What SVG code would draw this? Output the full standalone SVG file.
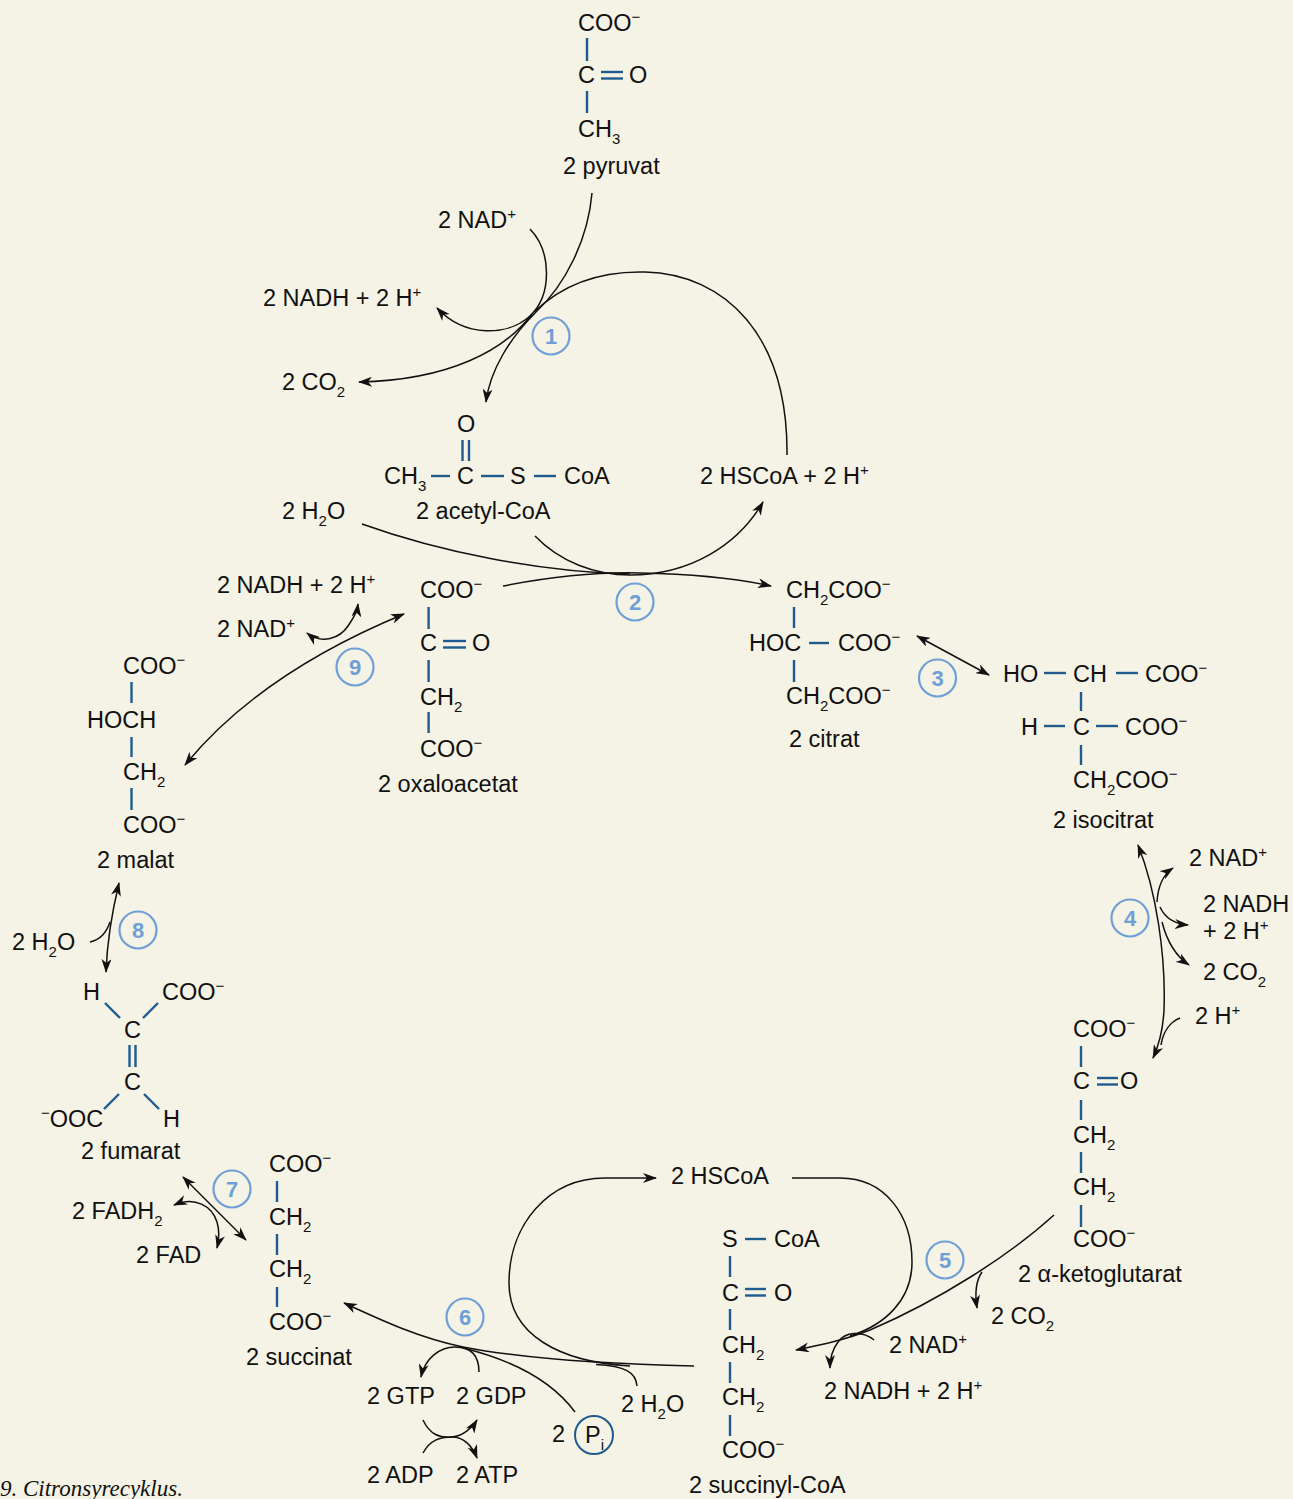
<svg xmlns="http://www.w3.org/2000/svg" width="1293" height="1499" viewBox="0 0 1293 1499">
<defs>
<style>
text{font-family:"Liberation Sans",Arial,sans-serif;font-size:23.5px;fill:#111}
.sb{font-size:15px}
.sp{font-size:15px}
.bond{stroke:#1f5b8e;stroke-width:2.4;fill:none}
.con{stroke:#111;stroke-width:1.5;fill:none}
.arr{marker-end:url(#ah)}
.dbl{marker-end:url(#ah);marker-start:url(#ah)}
.step circle{fill:none;stroke:#6e9fd6;stroke-width:2.2}
.step text{font-size:22px;font-weight:bold;fill:#6e9fd6;text-anchor:middle}
.cap{font-family:"Liberation Serif","Times New Roman",serif;font-style:italic;font-size:23px}
</style>
<marker id="ah" viewBox="0 0 14 10" refX="13" refY="5" markerWidth="14" markerHeight="10" markerUnits="userSpaceOnUse" orient="auto-start-reverse">
<path d="M0,0 L14,5 L0,10 L4,5 z" fill="#111"/>
</marker>
</defs>
<rect width="1293" height="1499" fill="#f5f3e5"/>

<g id="connectors">
<!-- step 1 -->
<path class="con arr" d="M592,193 C588,240 565,285 536,312 C510,338 490,370 486,402"/>
<path class="con arr" d="M530,229 C552,252 552,295 530,316 C508,336 465,338 437,308"/>
<path class="con arr" d="M532,314 C505,350 450,380 359,382"/>
<path class="con" d="M534,312 C565,282 605,271 645,272 C725,274 788,335 787,455"/>
<!-- step 2 -->
<path class="con" d="M362,524 C440,552 540,572 630,574"/>
<path class="con arr" d="M503,586 C550,577 600,572 640,573 C690,574 735,578 771,586"/>
<path class="con arr" d="M535,536 C560,562 595,575 630,575 C690,575 738,545 763,502"/>
<!-- step 3 -->
<path class="con dbl" d="M917,636 L989,675"/>
<!-- step 4 -->
<path class="con dbl" d="M1138,845 C1156,890 1166,955 1164,1010 C1163,1030 1159,1045 1153,1058"/>
<path class="con arr" d="M1157,902 C1158,885 1164,874 1173,868"/>
<path class="con arr" d="M1160,907 C1165,918 1175,924 1188,925"/>
<path class="con arr" d="M1162,922 C1168,945 1177,957 1189,965"/>
<path class="con" d="M1180,1018 C1170,1022 1163,1032 1161,1045"/>
<!-- step 5 -->
<path class="con arr" d="M1054,1215 C1010,1255 940,1300 870,1330 C845,1340 820,1345 796,1350"/>
<path class="con arr" d="M982,1272 C975,1282 975,1295 977,1308"/>
<path class="con arr" d="M874,1340 C862,1330 845,1332 838,1342 C832,1350 830,1358 830,1368"/>
<path class="con" d="M792,1178 L840,1178 C885,1178 912,1215 912,1262 C912,1300 885,1325 850,1336"/>
<!-- step 6 -->
<path class="con arr" d="M694,1366 C600,1364 520,1358 463,1347 C420,1338 385,1322 344,1303"/>
<path class="con arr" d="M630,1366 C560,1362 509,1335 509,1283 C509,1225 548,1178 605,1178 L656,1178"/>
<path class="con" d="M637,1386 C636,1372 625,1366 596,1364.5"/>
<path class="con" d="M575,1412 C555,1385 520,1362 463,1348"/>
<path class="con arr" d="M479,1372 C479,1355 470,1347 455,1347 C440,1347 425,1358 421,1377"/>
<path class="con arr" d="M423,1420 C430,1435 440,1438 452,1437 C463,1436 472,1428 477,1420"/>
<path class="con arr" d="M423,1453 C430,1440 440,1437 452,1437 C463,1437 472,1445 477,1458"/>
<!-- step 7 -->
<path class="con dbl" d="M183,1177 L246,1240"/>
<path class="con dbl" d="M174,1205 C195,1196 212,1206 217,1222 C220,1232 219,1240 217,1248"/>
<!-- step 8 -->
<path class="con dbl" d="M119,883 C112,912 107,945 106,972"/>
<path class="con" d="M90,942 C100,940 106,934 110,922"/>
<!-- step 9 -->
<path class="con dbl" d="M185,765 C230,710 300,657 404,614"/>
<path class="con dbl" d="M307,633 C322,645 340,638 348,626 C354,617 357,612 358,604"/>
</g>

<g id="steps" class="step">
<g id="step1"><circle cx="551" cy="336" r="18.5"/><text x="551" y="344">1</text></g>
<g id="step2"><circle cx="635" cy="602" r="18.5"/><text x="635" y="610">2</text></g>
<g id="step3"><circle cx="937.5" cy="678" r="18.5"/><text x="937.5" y="686">3</text></g>
<g id="step4"><circle cx="1130" cy="918" r="18.5"/><text x="1130" y="926">4</text></g>
<g id="step5"><circle cx="945" cy="1260" r="18.5"/><text x="945" y="1268">5</text></g>
<g id="step6"><circle cx="465" cy="1317" r="18.5"/><text x="465" y="1325">6</text></g>
<g id="step7"><circle cx="232" cy="1189" r="18.5"/><text x="232" y="1197">7</text></g>
<g id="step8"><circle cx="138" cy="930" r="18.5"/><text x="138" y="938">8</text></g>
<g id="step9"><circle cx="355" cy="667" r="18.5"/><text x="355" y="675">9</text></g>
</g>

<g id="pyruvat">
<text x="578" y="31">COO<tspan class="sp" dy="-9">−</tspan></text>
<line class="bond" x1="587" y1="38" x2="587" y2="61"/>
<text x="578" y="83">C</text>
<line class="bond" x1="601" y1="72" x2="623" y2="72"/>
<line class="bond" x1="601" y1="78.5" x2="623" y2="78.5"/>
<text x="629" y="83">O</text>
<line class="bond" x1="587" y1="91" x2="587" y2="113"/>
<text x="578" y="137">CH<tspan class="sb" dy="7">3</tspan></text>
<text x="563" y="174">2 pyruvat</text>
</g>

<g id="acetylcoa">
<text x="457" y="432">O</text>
<line class="bond" x1="462.5" y1="440" x2="462.5" y2="461"/>
<line class="bond" x1="469" y1="440" x2="469" y2="461"/>
<text x="384" y="484">CH<tspan class="sb" dy="7">3</tspan></text>
<line class="bond" x1="431" y1="476" x2="450" y2="476"/>
<text x="457" y="484">C</text>
<line class="bond" x1="481" y1="476" x2="504" y2="476"/>
<text x="510" y="484">S</text>
<line class="bond" x1="534" y1="476" x2="556" y2="476"/>
<text x="564" y="484">CoA</text>
<text x="416" y="519">2 acetyl-CoA</text>
</g>

<g id="oxaloacetat">
<text x="420" y="598">COO<tspan class="sp" dy="-9">−</tspan></text>
<line class="bond" x1="428.6" y1="607" x2="428.6" y2="629"/>
<text x="420" y="651">C</text>
<line class="bond" x1="443" y1="641" x2="466" y2="641"/>
<line class="bond" x1="443" y1="647.5" x2="466" y2="647.5"/>
<text x="472" y="651">O</text>
<line class="bond" x1="428.6" y1="660" x2="428.6" y2="682"/>
<text x="420" y="705">CH<tspan class="sb" dy="7">2</tspan></text>
<line class="bond" x1="428.6" y1="712" x2="428.6" y2="733"/>
<text x="420" y="757">COO<tspan class="sp" dy="-9">−</tspan></text>
<text x="378" y="792">2 oxaloacetat</text>
</g>

<g id="citrat">
<text x="786" y="598">CH<tspan class="sb" dy="7">2</tspan><tspan dy="-7">COO</tspan><tspan class="sp" dy="-9">−</tspan></text>
<line class="bond" x1="794" y1="607" x2="794" y2="628"/>
<text x="749" y="651">HOC</text>
<line class="bond" x1="809" y1="643" x2="829" y2="643"/>
<text x="838" y="651">COO<tspan class="sp" dy="-9">−</tspan></text>
<line class="bond" x1="794" y1="660" x2="794" y2="682"/>
<text x="786" y="704">CH<tspan class="sb" dy="7">2</tspan><tspan dy="-7">COO</tspan><tspan class="sp" dy="-9">−</tspan></text>
<text x="789" y="747">2 citrat</text>
</g>

<g id="isocitrat">
<text x="1003" y="682">HO</text>
<line class="bond" x1="1044" y1="673" x2="1066" y2="673"/>
<text x="1073" y="682">CH</text>
<line class="bond" x1="1116" y1="673" x2="1138" y2="673"/>
<text x="1145" y="682">COO<tspan class="sp" dy="-9">−</tspan></text>
<line class="bond" x1="1081" y1="692" x2="1081" y2="711"/>
<text x="1021" y="735">H</text>
<line class="bond" x1="1044" y1="726" x2="1065" y2="726"/>
<text x="1073" y="735">C</text>
<line class="bond" x1="1096" y1="726" x2="1118" y2="726"/>
<text x="1125" y="735">COO<tspan class="sp" dy="-9">−</tspan></text>
<line class="bond" x1="1081" y1="745" x2="1081" y2="765"/>
<text x="1073" y="788">CH<tspan class="sb" dy="7">2</tspan><tspan dy="-7">COO</tspan><tspan class="sp" dy="-9">−</tspan></text>
<text x="1053" y="828">2 isocitrat</text>
</g>

<g id="ketoglutarat">
<text x="1073" y="1037">COO<tspan class="sp" dy="-9">−</tspan></text>
<line class="bond" x1="1081" y1="1046" x2="1081" y2="1067"/>
<text x="1073" y="1089">C</text>
<line class="bond" x1="1097" y1="1078" x2="1118" y2="1078"/>
<line class="bond" x1="1097" y1="1084.5" x2="1118" y2="1084.5"/>
<text x="1120" y="1089">O</text>
<line class="bond" x1="1081" y1="1100" x2="1081" y2="1120"/>
<text x="1073" y="1143">CH<tspan class="sb" dy="7">2</tspan></text>
<line class="bond" x1="1081" y1="1152" x2="1081" y2="1173"/>
<text x="1073" y="1195">CH<tspan class="sb" dy="7">2</tspan></text>
<line class="bond" x1="1081" y1="1205" x2="1081" y2="1227"/>
<text x="1073" y="1247">COO<tspan class="sp" dy="-9">−</tspan></text>
<text x="1018" y="1282">2 α-ketoglutarat</text>
</g>

<g id="succinylcoa">
<text x="722" y="1247">S</text>
<line class="bond" x1="745" y1="1239" x2="766" y2="1239"/>
<text x="774" y="1247">CoA</text>
<line class="bond" x1="730" y1="1256" x2="730" y2="1277"/>
<text x="722" y="1301">C</text>
<line class="bond" x1="745" y1="1289" x2="766" y2="1289"/>
<line class="bond" x1="745" y1="1295.5" x2="766" y2="1295.5"/>
<text x="774" y="1301">O</text>
<line class="bond" x1="730" y1="1309" x2="730" y2="1330"/>
<text x="722" y="1353">CH<tspan class="sb" dy="7">2</tspan></text>
<line class="bond" x1="730" y1="1362" x2="730" y2="1383"/>
<text x="722" y="1405">CH<tspan class="sb" dy="7">2</tspan></text>
<line class="bond" x1="730" y1="1415" x2="730" y2="1436"/>
<text x="722" y="1458">COO<tspan class="sp" dy="-9">−</tspan></text>
<text x="689" y="1493">2 succinyl-CoA</text>
</g>

<g id="succinat">
<text x="269" y="1172">COO<tspan class="sp" dy="-9">−</tspan></text>
<line class="bond" x1="277" y1="1181" x2="277" y2="1202"/>
<text x="269" y="1225">CH<tspan class="sb" dy="7">2</tspan></text>
<line class="bond" x1="277" y1="1234" x2="277" y2="1255"/>
<text x="269" y="1277">CH<tspan class="sb" dy="7">2</tspan></text>
<line class="bond" x1="277" y1="1287" x2="277" y2="1307"/>
<text x="269" y="1330">COO<tspan class="sp" dy="-9">−</tspan></text>
<text x="246" y="1365">2 succinat</text>
</g>

<g id="fumarat">
<text x="83" y="1000">H</text>
<text x="162" y="1000">COO<tspan class="sp" dy="-9">−</tspan></text>
<line class="bond" x1="105" y1="1003" x2="120" y2="1018"/>
<line class="bond" x1="143" y1="1018" x2="158" y2="1003"/>
<text x="124" y="1038">C</text>
<line class="bond" x1="129.5" y1="1045" x2="129.5" y2="1067"/>
<line class="bond" x1="135.5" y1="1045" x2="135.5" y2="1067"/>
<text x="124" y="1090">C</text>
<line class="bond" x1="119" y1="1094" x2="104" y2="1109"/>
<line class="bond" x1="144" y1="1094" x2="159" y2="1109"/>
<text x="41" y="1127"><tspan class="sp" dy="-9">−</tspan><tspan dy="9">OOC</tspan></text>
<text x="163" y="1127">H</text>
<text x="81" y="1159">2 fumarat</text>
</g>

<g id="malat">
<text x="123" y="674">COO<tspan class="sp" dy="-9">−</tspan></text>
<line class="bond" x1="131.5" y1="682" x2="131.5" y2="703"/>
<text x="87" y="728">HOCH</text>
<line class="bond" x1="131.5" y1="737" x2="131.5" y2="757"/>
<text x="123" y="780">CH<tspan class="sb" dy="7">2</tspan></text>
<line class="bond" x1="131.5" y1="788" x2="131.5" y2="810"/>
<text x="123" y="833">COO<tspan class="sp" dy="-9">−</tspan></text>
<text x="97" y="868">2 malat</text>
</g>

<g id="cofactors">
<text x="438" y="228">2 NAD<tspan class="sp" dy="-9">+</tspan></text>
<text x="263" y="306">2 NADH + 2 H<tspan class="sp" dy="-9">+</tspan></text>
<text x="282" y="390">2 CO<tspan class="sb" dy="7">2</tspan></text>
<text x="282" y="519">2 H<tspan class="sb" dy="7">2</tspan><tspan dy="-7">O</tspan></text>
<text x="700" y="484">2 HSCoA + 2 H<tspan class="sp" dy="-9">+</tspan></text>
<text x="217" y="593">2 NADH + 2 H<tspan class="sp" dy="-9">+</tspan></text>
<text x="217" y="637">2 NAD<tspan class="sp" dy="-9">+</tspan></text>
<text x="1189" y="866">2 NAD<tspan class="sp" dy="-9">+</tspan></text>
<text x="1203" y="912">2 NADH</text>
<text x="1203" y="939">+ 2 H<tspan class="sp" dy="-9">+</tspan></text>
<text x="1203" y="980">2 CO<tspan class="sb" dy="7">2</tspan></text>
<text x="1195" y="1024">2 H<tspan class="sp" dy="-9">+</tspan></text>
<text x="991" y="1324">2 CO<tspan class="sb" dy="7">2</tspan></text>
<text x="889" y="1353">2 NAD<tspan class="sp" dy="-9">+</tspan></text>
<text x="824" y="1399">2 NADH + 2 H<tspan class="sp" dy="-9">+</tspan></text>
<text x="671" y="1184">2 HSCoA</text>
<text x="621" y="1412">2 H<tspan class="sb" dy="7">2</tspan><tspan dy="-7">O</tspan></text>
<g id="pi">
<text x="552" y="1442">2</text>
<circle cx="594" cy="1435" r="19" fill="none" stroke="#1f5b8e" stroke-width="2"/>
<text x="585" y="1443">P<tspan class="sb" dy="7">i</tspan></text>
</g>
<text x="367" y="1404">2 GTP</text>
<text x="456" y="1404">2 GDP</text>
<text x="367" y="1483">2 ADP</text>
<text x="456" y="1483">2 ATP</text>
<text x="72" y="1219">2 FADH<tspan class="sb" dy="7">2</tspan></text>
<text x="136" y="1263">2 FAD</text>
<text x="12" y="950">2 H<tspan class="sb" dy="7">2</tspan><tspan dy="-7">O</tspan></text>
</g>

<text class="cap" x="0" y="1496">9. Citronsyrecyklus.</text>
</svg>
